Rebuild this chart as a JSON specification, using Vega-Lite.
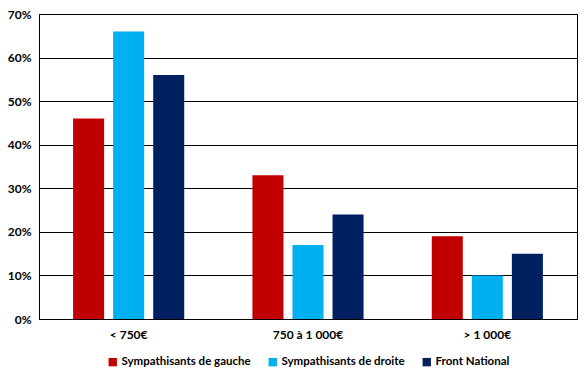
{
  "$schema": "https://vega.github.io/schema/vega-lite/v6.json",
  "width": 538,
  "height": 305,
  "autosize": {"type": "none"},
  "padding": {"left": 39, "top": 14, "right": 8, "bottom": 55},
  "background": "white",
  "config": {
    "view": {"stroke": "black", "strokeWidth": 1},
    "font": "Lato",
    "axis": {"labelFont": "Lato", "labelFontWeight": "bold", "labelFontSize": 12, "labelColor": "black"},
    "legend": {"labelFont": "Lato", "labelFontWeight": "bold", "labelFontSize": 11.5, "labelColor": "black", "layout": {"bottom": {"anchor": "middle"}}}
  },
  "data": {
    "values": [
      {"cat": "< 750€", "serie": "Sympathisants de gauche", "v": 0.46},
      {"cat": "< 750€", "serie": "Sympathisants de droite", "v": 0.66},
      {"cat": "< 750€", "serie": "Front National", "v": 0.56},
      {"cat": "750 à 1 000€", "serie": "Sympathisants de gauche", "v": 0.33},
      {"cat": "750 à 1 000€", "serie": "Sympathisants de droite", "v": 0.17},
      {"cat": "750 à 1 000€", "serie": "Front National", "v": 0.24},
      {"cat": "> 1 000€", "serie": "Sympathisants de gauche", "v": 0.19},
      {"cat": "> 1 000€", "serie": "Sympathisants de droite", "v": 0.10},
      {"cat": "> 1 000€", "serie": "Front National", "v": 0.15}
    ]
  },
  "mark": {"type": "bar"},
  "encoding": {
    "x": {
      "field": "cat", "type": "nominal", "sort": null, "title": null,
      "scale": {"paddingInner": 0.33, "paddingOuter": 0.165},
      "axis": {"labelAngle": 0, "ticks": false, "domainColor": "black", "labelPadding": 10}
    },
    "xOffset": {
      "field": "serie", "type": "nominal",
      "sort": ["Sympathisants de gauche", "Sympathisants de droite", "Front National"],
      "scale": {"paddingInner": 0.225, "paddingOuter": 0.1125}
    },
    "y": {
      "field": "v", "type": "quantitative", "title": null,
      "scale": {"domain": [0, 0.7]},
      "axis": {"format": ".0%", "values": [0, 0.1, 0.2, 0.3, 0.4, 0.5, 0.6, 0.7], "ticks": false, "domainColor": "black", "gridColor": "black", "gridOpacity": 1, "labelPadding": 8}
    },
    "color": {
      "field": "serie", "type": "nominal", "title": null,
      "sort": ["Sympathisants de gauche", "Sympathisants de droite", "Front National"],
      "scale": {"domain": ["Sympathisants de gauche", "Sympathisants de droite", "Front National"], "range": ["#C00000", "#00B0F0", "#002060"]},
      "legend": {"orient": "bottom", "direction": "horizontal", "symbolType": "square", "symbolSize": 70, "symbolOffset": 0, "labelOffset": 3, "columnPadding": 16, "labelLimit": 300, "offset": 16}
    }
  }
}
